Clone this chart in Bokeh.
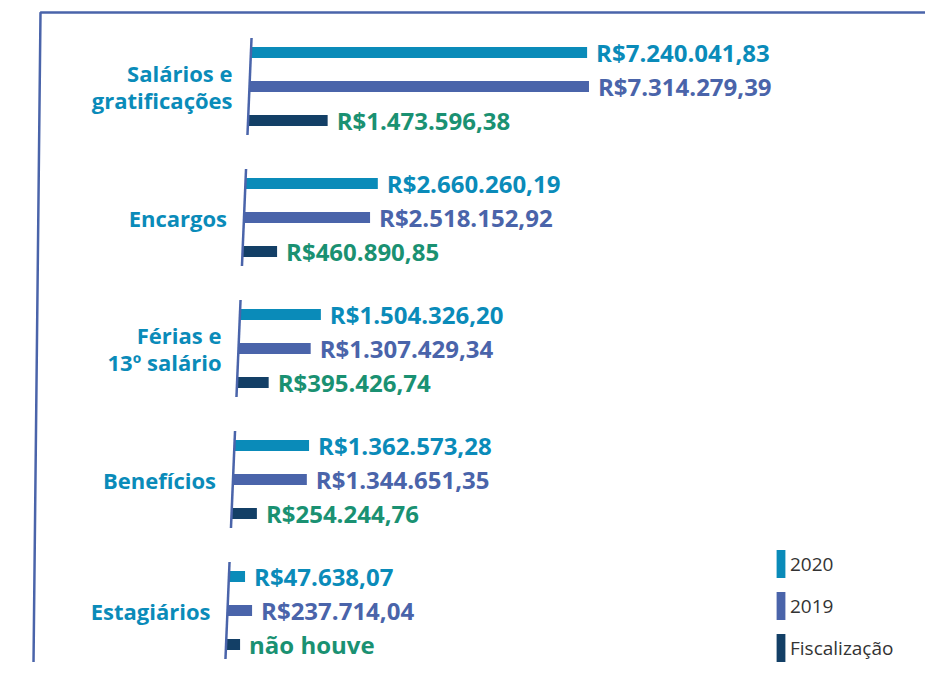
from bokeh.plotting import figure
from bokeh.models import Range1d, ColumnDataSource, Legend, LegendItem
from bokeh.core.properties import value
from bokeh.embed import file_html
from bokeh.resources import INLINE

# ---------------- data ----------------
categories = ["Salários e\ngratificações", "Encargos", "Férias e\n13º salário", "Benefícios", "Estagiários"]
series = ["2020", "2019", "Fiscalização"]
v2020 = [7240041.83, 2660260.19, 1504326.20, 1362573.28, 47638.07]
v2019 = [7314279.39, 2518152.92, 1307429.34, 1344651.35, 237714.04]
vfisc = [1473596.38, 460890.85, 395426.74, 254244.76, None]
no_value_text = "não houve"

values = {"2020": v2020, "2019": v2019, "Fiscalização": vfisc}
bar_colors = {"2020": "#0a8bb9", "2019": "#4a64aa", "Fiscalização": "#133f66"}
label_colors = {"2020": "#0a8bb9", "2019": "#4a64aa", "Fiscalização": "#1a9172"}
cat_color = "#0a8bb9"
frame_color = "#4a64aa"

# ---------------- layout constants (pixels) ----------------
W, H = 925, 662
S = 44.5        # px per million R$
PXY = 131.0     # px per category
AX0 = 249       # x of first axis line
Y0 = 86         # y of first category centre
SKEW = 5.5      # leftward shift per category (px)
STUB = 14       # minimal bar stub (px)
BAR_H = 11
OFF = 34
GAP = 9
CAT_GAP = 17

x_start = -AX0 / S
y_top = -Y0 / PXY


def base(y):
    return -SKEW * y / S


def brl(v):
    s = f"{v:,.2f}"
    s = s.replace(",", "X").replace(".", ",").replace("X", ".")
    return "R$" + s


def px_x(px):
    return x_start + px / S


def px_y(py):
    return y_top + py / PXY


p = figure(width=W, height=H, output_backend="svg", toolbar_location=None,
           x_range=Range1d(x_start, x_start + W / S),
           y_range=Range1d(y_top + H / PXY, y_top),
           min_border=0, outline_line_color=None,
           background_fill_color="white", border_fill_color="white")
p.axis.visible = False
p.grid.visible = False

# frame
fx = [px_x(32.6), px_x(40), px_x(948), px_x(925.3)]
fy = [px_y(700), px_y(12), px_y(12), px_y(700)]
p.line(fx, fy, line_color=frame_color, line_width=2.5)

renderers = {}
for j, s in enumerate(series):
    ys, lefts, rights, lxs, labels = [], [], [], [], []
    for i in range(len(categories)):
        y = i + (j - 1) * OFF / PXY
        v = values[s][i]
        vm = 0.0 if v is None else v / 1e6
        left = base(y)
        right = left + STUB / S + vm
        ys.append(y)
        lefts.append(left)
        rights.append(right)
        lxs.append(right + GAP / S)
        labels.append(no_value_text if v is None else brl(v))
    src = ColumnDataSource(dict(y=ys, left=lefts, right=rights, lx=lxs, label=labels))
    r = p.hbar(y="y", left="left", right="right", height=BAR_H / PXY, source=src,
               fill_color=bar_colors[s], line_color=None)
    renderers[s] = r
    p.text(x="lx", y="y", text="label", source=src, text_color=label_colors[s],
           text_font=value("Open Sans"), text_font_style="bold", text_font_size="24px",
           text_baseline="middle", text_align="left")

# per-category axis lines
idx = list(range(len(categories)))
p.segment(x0=[base(i - 0.37) for i in idx], y0=[i - 0.37 for i in idx],
          x1=[base(i + 0.37) for i in idx], y1=[i + 0.37 for i in idx],
          line_color=frame_color, line_width=2.5)

# category labels
csrc = ColumnDataSource(dict(x=[base(i) - CAT_GAP / S for i in idx], y=idx, t=categories))
p.text(x="x", y="y", text="t", source=csrc, text_color=cat_color,
       text_font=value("Open Sans"), text_font_style="bold", text_font_size="22px",
       text_baseline="middle", text_align="right", text_line_height=0.93)

legend = Legend(items=[LegendItem(label=s, renderers=[renderers[s]]) for s in series],
                location=(775, -3), orientation="vertical",
                glyph_width=11, glyph_height=35, spacing=7, label_standoff=4,
                label_text_font="Open Sans", label_text_font_size="19px",
                label_text_color="#333333", label_text_baseline="middle",
                padding=0, margin=0, border_line_color=None,
                background_fill_alpha=0)
p.add_layout(legend)

open("out.html", "w").write(file_html(p, INLINE))
